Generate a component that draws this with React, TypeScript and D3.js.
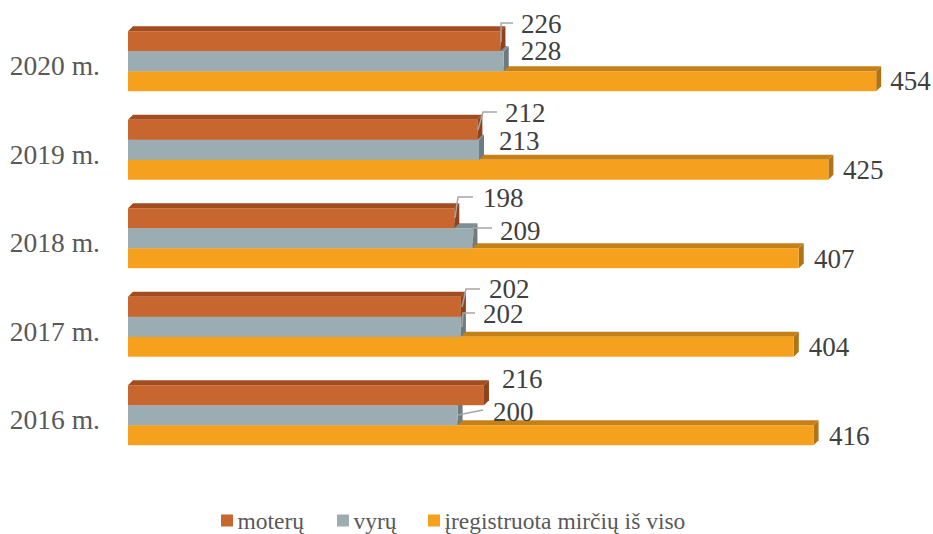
import React from "react";
import * as d3 from "d3";

const years = ["2020 m.", "2019 m.", "2018 m.", "2017 m.", "2016 m."];
const seriesNames = ["moterų", "vyrų", "įregistruota mirčių iš viso"];
const moteru = [226, 212, 198, 202, 216];
const vyru = [228, 213, 209, 202, 200];
const isViso = [454, 425, 407, 404, 416];
const seriesValues = [moteru, vyru, isViso];

// colours: front, top, side
const palette = [
  { front: "#C7662F", top: "#A24C1F", side: "#8F431C" },
  { front: "#9BADB2", top: "#7E8F94", side: "#6C7B80" },
  { front: "#F6A11E", top: "#C4811A", side: "#B07416" },
];

// manual label placement (Excel-style dragged labels), relative to bar end / bar top
type LL = { dx: number; dy: number; leader?: [number, number][] };
const labelLayout: LL[][] = [
  [
    { dx: 20.6, dy: -6.7, leader: [[0.6, 10.8], [0.6, -8.2], [12.6, -8.2]] },
    { dx: 17, dy: -0.2 },
    { dx: 14, dy: 10 },
  ],
  [
    { dx: 27.6, dy: -6.7, leader: [[0.6, 10.3], [5.6, -7.7], [19.6, -7.7]] },
    { dx: 20, dy: 1.3 },
    { dx: 14.6, dy: 10 },
  ],
  [
    { dx: 28.7, dy: -10, leader: [[0.7, 9.8], [3.7, -11.2], [18.7, -11.2]] },
    { dx: 27.6, dy: 2.8, leader: [[0.6, 8.8], [0.6, -0.2], [19.6, -0.2]] },
    { dx: 15.3, dy: 11 },
  ],
  [
    { dx: 28, dy: -7.7, leader: [[1.1, 10.3], [5.1, -7.7], [19.1, -7.7]] },
    { dx: 22, dy: -2.7, leader: [[1.1, 10.3], [2.1, -3.7], [14.1, -3.7]] },
    { dx: 15, dy: 10.5 },
  ],
  [
    { dx: 18, dy: -6 },
    { dx: 35.4, dy: 6.5, leader: [[0.4, 9.8], [25.4, 4.8]] },
    { dx: 15.4, dy: 10.5 },
  ],
];

const W = 933;
const H = 534;
const DX = 5;
const DY = 5;
const FONT = '"Liberation Serif"';

export default function App() {
  const x = d3.scaleLinear().domain([0, 500]).range([128, 952]);
  const y = d3
    .scaleBand<string>()
    .domain(years)
    .range([16.95, 459.45])
    .paddingInner(0.322)
    .paddingOuter(0.161);
  const ys = d3
    .scaleBand<number>()
    .domain([0, 1, 2])
    .range([0, y.bandwidth()])
    .padding(0);
  const bh = ys.bandwidth();
  const line = d3.line();

  return (
    <svg
      width={W}
      height={H}
      style={{ position: "absolute", left: 0, top: 0, background: "#fff" }}
    >
      {years.map((yr, i) => {
        const g0 = y(yr)!;
        return (
          <g key={yr}>
            {[2, 1, 0].map((s) => {
              const v = seriesValues[s][i];
              const x0 = x(0);
              const x1 = x(v);
              const top = g0 + ys(s)!;
              const c = palette[s];
              return (
                <g key={s}>
                  <polygon
                    points={`${x0},${top} ${x0 + DX},${top - DY} ${x1 + DX},${top - DY} ${x1},${top}`}
                    fill={c.top}
                  />
                  <polygon
                    points={`${x1},${top} ${x1 + DX},${top - DY} ${x1 + DX},${top + bh - DY} ${x1},${top + bh}`}
                    fill={c.side}
                  />
                  <rect x={x0} y={top} width={x1 - x0} height={bh} fill={c.front} />
                </g>
              );
            })}
            {[2, 1, 0].map((s) => {
              const v = seriesValues[s][i];
              const x1 = x(v);
              const top = g0 + ys(s)!;
              const L = labelLayout[i][s];
              return (
                <g key={"l" + s}>
                  {L.leader && (
                    <path
                      d={line(L.leader.map(([a, b]) => [x1 + a, top + b]))!}
                      fill="none"
                      stroke="#A6A6A6"
                      strokeWidth={1.5}
                    />
                  )}
                  <text
                    x={x1 + L.dx}
                    y={top + L.dy}
                    dy="0.33em"
                    fontSize={27}
                    fill="#404040"
                    style={{ fontFamily: FONT }}
                  >
                    {v}
                  </text>
                </g>
              );
            })}
            <text
              x={100}
              y={g0 + y.bandwidth() / 2 + 14}
              textAnchor="end"
              fontSize={27.5}
              fill="#595959"
              style={{ fontFamily: FONT }}
            >
              {yr}
            </text>
          </g>
        );
      })}
      {seriesNames.map((n, s) => {
        const lx = [221, 337, 428][s];
        return (
          <g key={n}>
            <rect x={lx} y={514.5} width={12} height={12} fill={palette[s].front} />
            <text x={lx + 16.5} y={529} fontSize={23.5} fill="#595959" style={{ fontFamily: FONT }}>
              {n}
            </text>
          </g>
        );
      })}
    </svg>
  );
}
